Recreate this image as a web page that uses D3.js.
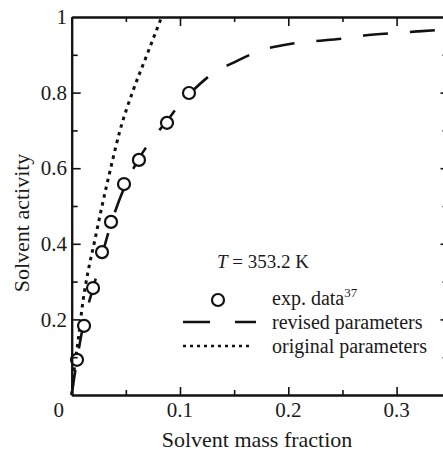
<!DOCTYPE html>
<html><head><meta charset="utf-8">
<script src="https://cdn.jsdelivr.net/npm/d3@7"></script>
<style>body{margin:0;background:#fff}svg{display:block}text{font-family:"Liberation Serif","Times New Roman",serif;fill:#1a1a1a}</style>
</head><body><svg id="c" width="443" height="455"></svg>
<script>
// ---- data ----
const expX = [0.0049, 0.0114, 0.0197, 0.028, 0.0363, 0.0483, 0.0621, 0.088, 0.1083];
const expY = [0.093, 0.183, 0.283, 0.378, 0.458, 0.558, 0.622, 0.720, 0.799];
const revisedX = [0, 0.002, 0.005, 0.01, 0.015, 0.02, 0.028, 0.036, 0.048, 0.062, 0.075, 0.088, 0.1, 0.11, 0.13, 0.15, 0.175, 0.2, 0.22, 0.25, 0.27, 0.3, 0.32, 0.347];
const revisedY = [0, 0.04, 0.095, 0.175, 0.235, 0.285, 0.37, 0.45, 0.545, 0.625, 0.68, 0.725, 0.77, 0.8, 0.85, 0.88, 0.912, 0.928, 0.935, 0.943, 0.951, 0.958, 0.962, 0.967];
const originalX = [0, 0.002, 0.006, 0.0105, 0.015, 0.021, 0.028, 0.036, 0.0446, 0.056, 0.0695, 0.083];
const originalY = [0, 0.06, 0.145, 0.25, 0.325, 0.405, 0.5, 0.6, 0.7, 0.8, 0.9, 1.0];
const xTickLabels = ["0", "0.1", "0.2", "0.3"];
const yTickLabels = ["0.2", "0.4", "0.6", "0.8", "1"];
const legendLabels = ["exp. data", "revised parameters", "original parameters"];
const tempLabel = "353.2 K";

const svg = d3.select("#c");
const x = d3.scaleLinear().domain([0, 0.347]).range([71.7, 447.5]);
const y = d3.scaleLinear().domain([0, 1]).range([395, 17]);
const ink = "#111";

// curves
const line = d3.line().x(d => x(d[0])).y(d => y(d[1])).curve(d3.curveMonotoneX);
svg.append("path").datum(originalX.map((v, i) => [v, originalY[i]]))
  .attr("d", line).attr("fill", "none").attr("stroke", ink)
  .attr("stroke-width", 3).attr("stroke-dasharray", "3.5,4.5");
svg.append("path").datum(revisedX.map((v, i) => [v, revisedY[i]]))
  .attr("d", line).attr("fill", "none").attr("stroke", ink)
  .attr("stroke-width", 2.6).attr("stroke-dasharray", "25,22");

// exp points
svg.selectAll("circle.exp").data(expX.map((v, i) => [v, expY[i]])).join("circle")
  .attr("class", "exp").attr("cx", d => x(d[0])).attr("cy", d => y(d[1])).attr("r", 6)
  .attr("fill", "#fff").attr("stroke", ink).attr("stroke-width", 2.2);

// axes (ticks inward)
function styleAxis(g) {
  g.select(".domain").attr("stroke", ink).attr("stroke-width", 2);
  g.selectAll(".tick line").attr("stroke", ink).attr("stroke-width", 1.6);
  g.selectAll("text").remove();
}
const xMajor = [0, 0.1, 0.2, 0.3], xMinor = [0.05, 0.15, 0.25];
const yMajor = [0.2, 0.4, 0.6, 0.8], yMinor = [0.1, 0.3, 0.5, 0.7, 0.9];
// bottom
svg.append("g").attr("transform", "translate(0,395)")
  .call(d3.axisTop(x).tickValues(xMajor).tickSize(8).tickSizeOuter(0)).call(styleAxis);
svg.append("g").attr("transform", "translate(0,395)")
  .call(d3.axisTop(x).tickValues(xMinor).tickSize(5).tickSizeOuter(0)).call(styleAxis);
// top
svg.append("g").attr("transform", "translate(0,17)")
  .call(d3.axisBottom(x).tickValues(xMajor).tickSize(9).tickSizeOuter(0)).call(styleAxis);
svg.append("g").attr("transform", "translate(0,17)")
  .call(d3.axisBottom(x).tickValues(xMinor).tickSize(5).tickSizeOuter(0)).call(styleAxis);
// left
svg.append("g").attr("transform", "translate(71.7,0)")
  .call(d3.axisRight(y).tickValues(yMajor).tickSize(9).tickSizeOuter(0)).call(styleAxis);
svg.append("g").attr("transform", "translate(71.7,0)")
  .call(d3.axisRight(y).tickValues(yMinor).tickSize(6).tickSizeOuter(0)).call(styleAxis);
// right
svg.append("g").attr("transform", "translate(447.5,0)")
  .call(d3.axisLeft(y).tickValues(yMajor).tickSize(7).tickSizeOuter(0)).call(styleAxis);
svg.append("g").attr("transform", "translate(447.5,0)")
  .call(d3.axisLeft(y).tickValues(yMinor).tickSize(5).tickSizeOuter(0)).call(styleAxis);

// tick labels
svg.selectAll("text.xt").data(xTickLabels).join("text").attr("class", "xt")
  .attr("x", (d, i) => i === 0 ? x(0) - 13 : x(xMajor[i])).attr("y", 417)
  .attr("text-anchor", "middle").attr("font-size", 21).text(d => d);
svg.selectAll("text.yt").data(yTickLabels).join("text").attr("class", "yt")
  .attr("x", 67).attr("y", d => y(+d)).attr("dy", "0.34em")
  .attr("text-anchor", "end").attr("font-size", 21).text(d => d);

// axis titles
svg.append("text").attr("x", 257).attr("y", 447).attr("text-anchor", "middle")
  .attr("font-size", 22).text("Solvent mass fraction");
svg.append("text").attr("transform", "translate(29,223) rotate(-90)").attr("text-anchor", "middle")
  .attr("font-size", 22).text("Solvent activity");

// temperature label
const tl = svg.append("text").attr("x", 217).attr("y", 268).attr("font-size", 19);
tl.append("tspan").attr("font-style", "italic").text("T");
tl.append("tspan").text(" = " + tempLabel);

// legend
svg.append("circle").attr("cx", 218).attr("cy", 300).attr("r", 6)
  .attr("fill", "#fff").attr("stroke", ink).attr("stroke-width", 2.2);
svg.append("line").attr("x1", 183).attr("x2", 256).attr("y1", 322).attr("y2", 322)
  .attr("stroke", ink).attr("stroke-width", 2.6).attr("stroke-dasharray", "27,25");
svg.append("line").attr("x1", 183).attr("x2", 251).attr("y1", 346).attr("y2", 346)
  .attr("stroke", ink).attr("stroke-width", 2.6).attr("stroke-dasharray", "3,4");
const lgY = [305, 329, 353];
const t0 = svg.append("text").attr("x", 272).attr("y", lgY[0]).attr("font-size", 20);
t0.append("tspan").text(legendLabels[0]);
t0.append("tspan").attr("font-size", 13).attr("dy", -8).text("37");
svg.append("text").attr("x", 272).attr("y", lgY[1]).attr("font-size", 20).text(legendLabels[1]);
svg.append("text").attr("x", 272).attr("y", lgY[2]).attr("font-size", 20).text(legendLabels[2]);
</script></body></html>
